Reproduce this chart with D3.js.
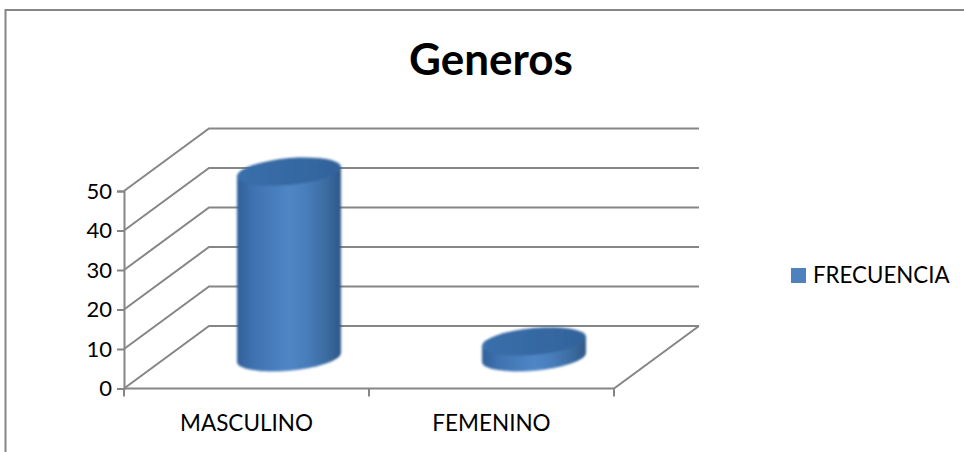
<!DOCTYPE html>
<html>
<head>
<meta charset="utf-8">
<script src="https://cdnjs.cloudflare.com/ajax/libs/d3/7.8.5/d3.min.js"></script>
<style>
  html, body { margin: 0; padding: 0; background: #fff; }
  svg { display: block; font-family: Lato, "Open Sans", sans-serif; }
</style>
</head>
<body>
<div id="chart"></div>
<script>
// data
const categories = ["MASCULINO", "FEMENINO"];
const frecuencia = [47, 4];
const yTicks = [0, 10, 20, 30, 40, 50];
const seriesName = "FRECUENCIA";
const chartTitle = "Generos";

const width = 964;
const height = 452;
const gridColor = "#868686";

// depth of the 3d box, in pixels
const depthX = 85;
const depthY = -62.5;

const svg = d3.select("#chart").append("svg")
    .attr("width", width)
    .attr("height", height);

const x = d3.scaleBand().domain(categories).range([124, 614]);
const y = d3.scaleLinear().domain([0, 50]).range([388.5, 191]);

// chart frame, cut off on the right and at the bottom
svg.append("path")
    .attr("d", `M5.5,${height}V10H${width}`)
    .attr("fill", "none")
    .attr("stroke", gridColor)
    .attr("stroke-width", 2);

// gradients for the cylinders
const defs = svg.append("defs");
const side = defs.append("linearGradient").attr("id", "side");
[[0, "#31609a"], [0.15, "#3e72b0"], [0.5, "#4f86c6"], [0.65, "#4a7fbd"], [0.88, "#3a6a9e"], [1, "#2f5788"]]
    .forEach(s => side.append("stop").attr("offset", s[0]).attr("stop-color", s[1]));
const topFace = defs.append("linearGradient").attr("id", "topFace");
[[0, "#3a6fab"], [1, "#32639b"]]
    .forEach(s => topFace.append("stop").attr("offset", s[0]).attr("stop-color", s[1]));
defs.append("filter").attr("id", "soft")
    .append("feGaussianBlur").attr("stdDeviation", 0.8);

// walls and floor
const grid = svg.append("g")
    .attr("fill", "none")
    .attr("stroke", gridColor)
    .attr("stroke-width", 2);

grid.selectAll("path.wall")
    .data(yTicks)
    .join("path")
    .attr("class", "wall")
    .attr("d", d => `M${x.range()[0]},${y(d)}l${depthX},${depthY}H${x.range()[1] + depthX}`);

grid.append("path")
    .attr("d", `M${x.range()[0]},${y(0)}H${x.range()[1]}l${depthX},${depthY}`);

// value axis
const yAxis = svg.append("g")
    .attr("transform", `translate(${x.range()[0]},0)`)
    .call(d3.axisLeft(y).tickValues(yTicks).tickSize(7).tickPadding(5));
yAxis.selectAll("path, line").attr("stroke", gridColor).attr("stroke-width", 2);
yAxis.selectAll("text")
    .attr("font-size", 22)
    .attr("font-family", "Lato, 'Open Sans', sans-serif")
    .attr("fill", "#000");

// category axis, ticks sit between the bands
const xEdges = [x.range()[0]].concat(categories.map(c => x(c) + x.bandwidth()));
svg.append("g").selectAll("line")
    .data(xEdges)
    .join("line")
    .attr("x1", d => d).attr("x2", d => d)
    .attr("y1", y(0)).attr("y2", y(0) + 8)
    .attr("stroke", gridColor)
    .attr("stroke-width", 2);

svg.append("g").selectAll("text")
    .data(categories)
    .join("text")
    .attr("x", d => x(d) + x.bandwidth() / 2)
    .attr("y", 431)
    .attr("text-anchor", "middle")
    .attr("font-size", 22.5)
    .attr("fill", "#000")
    .text(d => d);

// cylinders
const rx = 52;
const ry = 13.5;
const shear = -4.5 / rx;
const baseY = y(0) + depthY / 2;

const bars = svg.append("g").selectAll("g")
    .data(categories.map((c, i) => ({ name: c, value: frecuencia[i] })))
    .join("g")
    .attr("filter", "url(#soft)")
    .attr("transform", d => `matrix(1,${shear},0,1,${x(d.name) + x.bandwidth() / 2 + depthX / 2},0)`);

bars.append("path")
    .attr("fill", "url(#side)")
    .attr("d", d => {
        const top = y(d.value) + depthY / 2;
        return `M${-rx},${top}V${baseY}A${rx},${ry} 0 0 0 ${rx},${baseY}V${top}Z`;
    });

bars.append("ellipse")
    .attr("rx", rx)
    .attr("ry", ry)
    .attr("cy", d => y(d.value) + depthY / 2)
    .attr("fill", "url(#topFace)");

// title
svg.append("text")
    .attr("x", 491)
    .attr("y", 75)
    .attr("text-anchor", "middle")
    .attr("font-size", 44)
    .attr("font-weight", "bold")
    .attr("fill", "#000")
    .text(chartTitle);

// legend
svg.append("rect")
    .attr("x", 791).attr("y", 268)
    .attr("width", 15).attr("height", 15)
    .attr("fill", "#4f81bd");
svg.append("text")
    .attr("x", 813)
    .attr("y", 283)
    .attr("font-size", 22.3)
    .attr("fill", "#000")
    .text(seriesName);
</script>
</body>
</html>
